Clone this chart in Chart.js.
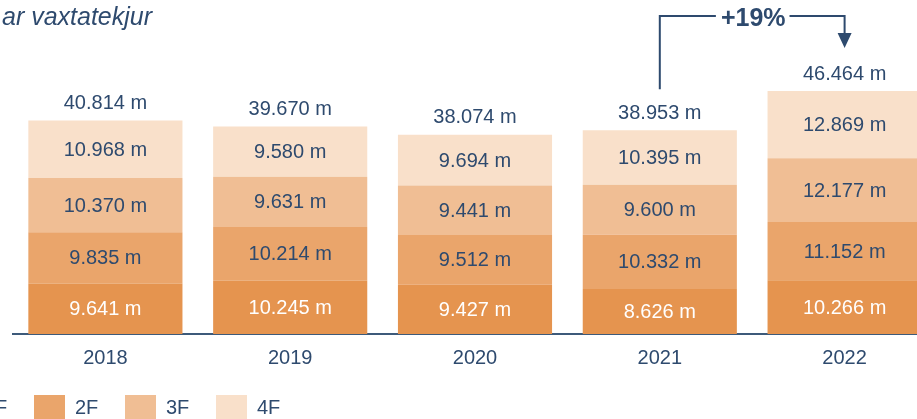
<!DOCTYPE html>
<html>
<head>
<meta charset="utf-8">
<script src="https://cdn.jsdelivr.net/npm/chart.js@4/dist/chart.umd.min.js"></script>
<style>
  html, body { margin: 0; padding: 0; background: #fff; overflow: hidden; }
  #wrap { width: 917px; height: 419px; overflow: hidden; position: relative; }
  canvas { position: absolute; left: 0; top: 0; }
</style>
</head>
<body>
<div id="wrap"><canvas id="myChart" width="940" height="419"></canvas></div>
<script>
const years = ['2018', '2019', '2020', '2021', '2022']
const f1 = [9.641, 10.245, 9.427, 8.626, 10.266]
const f2 = [9.835, 10.214, 9.512, 10.332, 11.152]
const f3 = [10.370, 9.631, 9.441, 9.600, 12.177]
const f4 = [10.968, 9.580, 9.694, 10.395, 12.869]
const totals = [40.814, 39.670, 38.074, 38.953, 46.464]
const seriesNames = ['1F', '2F', '3F', '4F']
const titleText = 'ar vaxtatekjur'
const changeText = '+19%'

const colors = ['#E5944F', '#EAA56B', '#F0BE94', '#F9E0CA']
const navy = '#2E4A6E'
const font = '"Liberation Sans", Arial, sans-serif'

const fmt = (v) => v.toFixed(3) + ' m'

const overlay = {
    id: 'overlay',
    afterDatasetsDraw(chart) {
        const ctx = chart.ctx
        const xs = chart.scales.x
        const ys = chart.scales.y
        ctx.save()
        ctx.textAlign = 'center'
        ctx.textBaseline = 'middle'
        ctx.font = '20px ' + font
        // segment labels
        chart.data.datasets.forEach((ds, i) => {
            const meta = chart.getDatasetMeta(i)
            meta.data.forEach((bar, j) => {
                const mid = (bar.y + bar.base) / 2
                ctx.fillStyle = i === 0 ? '#ffffff' : navy
                ctx.fillText(fmt(ds.data[j]), bar.x, mid + 1)
            })
        })
        // totals
        ctx.fillStyle = navy
        totals.forEach((t, j) => {
            ctx.fillText(fmt(t), xs.getPixelForValue(j), ys.getPixelForValue(t) - 17)
        })

        // change arrow from 2021 to 2022
        const x1 = xs.getPixelForValue(3)
        const x2 = xs.getPixelForValue(4)
        const yTop = 16
        const yStart = ys.getPixelForValue(totals[3]) - 41
        ctx.strokeStyle = navy
        ctx.lineWidth = 2
        ctx.font = 'bold 25px ' + font
        const tw = ctx.measureText(changeText).width
        const tx = (x1 + x2) / 2 + 1
        ctx.beginPath()
        ctx.moveTo(x1, yStart)
        ctx.lineTo(x1, yTop)
        ctx.lineTo(tx - tw / 2 - 5, yTop)
        ctx.moveTo(tx + tw / 2 + 4, yTop)
        ctx.lineTo(x2, yTop)
        ctx.lineTo(x2, 34)
        ctx.stroke()
        ctx.fillStyle = navy
        ctx.beginPath()
        ctx.moveTo(x2 - 7, 33)
        ctx.lineTo(x2 + 7, 33)
        ctx.lineTo(x2, 48)
        ctx.closePath()
        ctx.fill()
        ctx.fillText(changeText, tx, yTop + 3)

        // title
        ctx.textAlign = 'left'
        ctx.font = 'italic 25px ' + font
        ctx.fillText(titleText, 2, 18)

        // legend
        ctx.font = '20px ' + font
        seriesNames.forEach((name, i) => {
            const bx = -57 + i * 91
            ctx.fillStyle = colors[i]
            ctx.fillRect(bx, 395, 31, 24)
            ctx.fillStyle = navy
            ctx.fillText(name, bx + 41, 408)
        })
        ctx.restore()
    }
}

const config = {
    type: 'bar',
    data: {
        labels: years,
        datasets: [f1, f2, f3, f4].map((d, i) => ({
            label: seriesNames[i],
            data: d,
            backgroundColor: colors[i],
            borderWidth: 0,
            barPercentage: 0.834,
            categoryPercentage: 1
        }))
    },
    options: {
        responsive: false,
        animation: false,
        devicePixelRatio: 1,
        layout: { padding: { left: 13, right: 3, top: 72.5, bottom: 37 } },
        plugins: { legend: { display: false }, tooltip: { enabled: false } },
        scales: {
            x: {
                stacked: true,
                grid: { display: false, drawTicks: false },
                border: { display: true, color: '#3D5A7A', width: 2 },
                ticks: { color: navy, font: { family: font, size: 20 }, padding: 12 }
            },
            y: {
                stacked: true,
                display: false,
                min: 0,
                max: 50
            }
        }
    },
    plugins: [overlay]
}

const grafico = new Chart(document.getElementById('myChart'), config)
</script>
</body>
</html>
